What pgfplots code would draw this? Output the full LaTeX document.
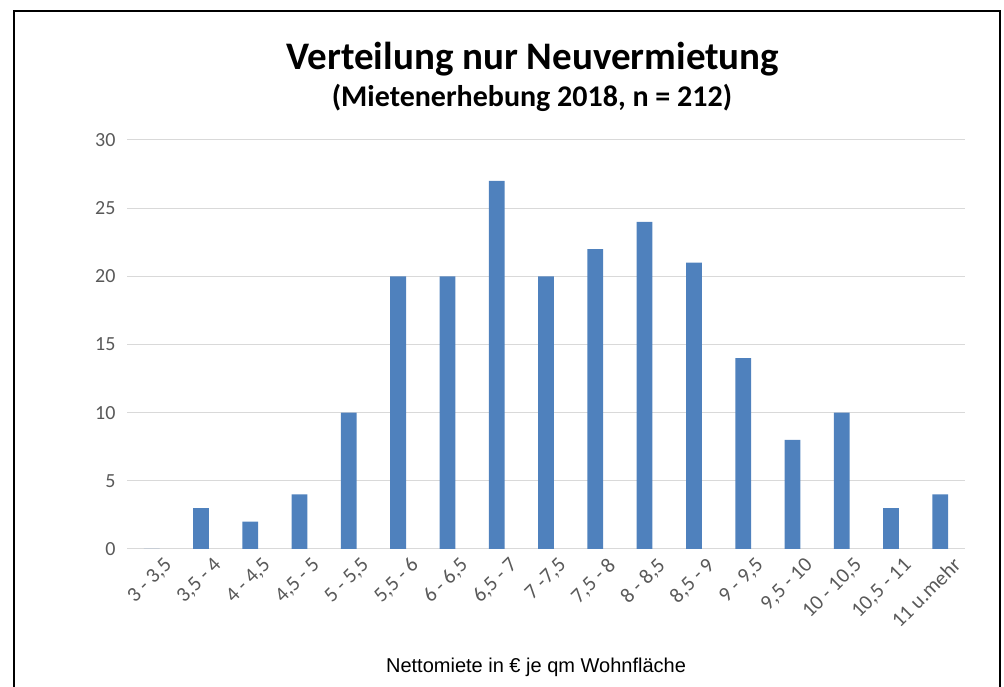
\documentclass[border=0pt]{standalone}
\usepackage{pgfplots}
\pgfplotsset{compat=1.18}
\usepackage{fontspec}
\setmainfont{Carlito}
\newfontfamily\arialfont{Liberation Sans}
\definecolor{barblue}{RGB}{79,129,189}
\definecolor{tickgray}{RGB}{89,89,89}
\definecolor{gridgray}{RGB}{217,217,217}
\begin{document}
\begin{tikzpicture}[x=1pt,y=1pt]
\path[use as bounding box] (0,0) rectangle (1004,687);
\draw[line width=2pt] (14,0) -- (14,676) -- (1000,676) -- (1000,0);
\node[anchor=base, font=\fontsize{39}{44}\selectfont\bfseries] at (533,617) {Verteilung nur Neuvermietung};
\node[anchor=base, font=\fontsize{30}{34}\selectfont\bfseries] at (532,580) {(Mietenerhebung 2018, n = 212)};
\node[anchor=base, font=\arialfont\fontsize{20}{24}\selectfont] at (536,14) {Nettomiete in € je qm Wohnfläche};
\begin{axis}[
  at={(127pt,138pt)}, anchor=south west,
  scale only axis, width=838pt, height=409pt,
  xmin=-0.5, xmax=16.5, ymin=0, ymax=30,
  ytick={0,5,...,30},
  xtick={0,...,16},
  xticklabels={{3 - 3,5}, {3,5 - 4}, {4 - 4,5}, {4,5 - 5}, {5 - 5,5}, {5,5 - 6}, {6 - 6,5}, {6,5 - 7}, {7 -7,5}, {7,5 - 8}, {8 - 8,5}, {8,5 - 9}, {9 - 9,5}, {9,5 - 10}, {10 - 10,5}, {10,5 - 11}, {11 u.mehr}},
  x tick label style={rotate=45, anchor=north east, font=\fontsize{21}{23}\selectfont, text=tickgray, inner sep=1pt, yshift=-12pt, xshift=4pt},
  y tick label style={font=\fontsize{20}{22}\selectfont, text=tickgray, xshift=-8pt},
  /pgf/number format/assume math mode=true,
  ymajorgrids, grid style={gridgray, line width=1pt},
  axis x line*=bottom, axis y line*=left,
  x axis line style={draw=gridgray, line width=1pt, -},
  y axis line style={draw=none},
  major tick length=0pt,
  ybar, bar width=0.32, bar shift=0pt,
  enlargelimits=false,
  clip=false,
]
\addplot[fill=barblue, draw=none] coordinates {
(0,0) (1,3) (2,2) (3,4) (4,10) (5,20) (6,20) (7,27) (8,20) (9,22) (10,24) (11,21) (12,14) (13,8) (14,10) (15,3) (16,4)};
\end{axis}
\end{tikzpicture}
\end{document}
